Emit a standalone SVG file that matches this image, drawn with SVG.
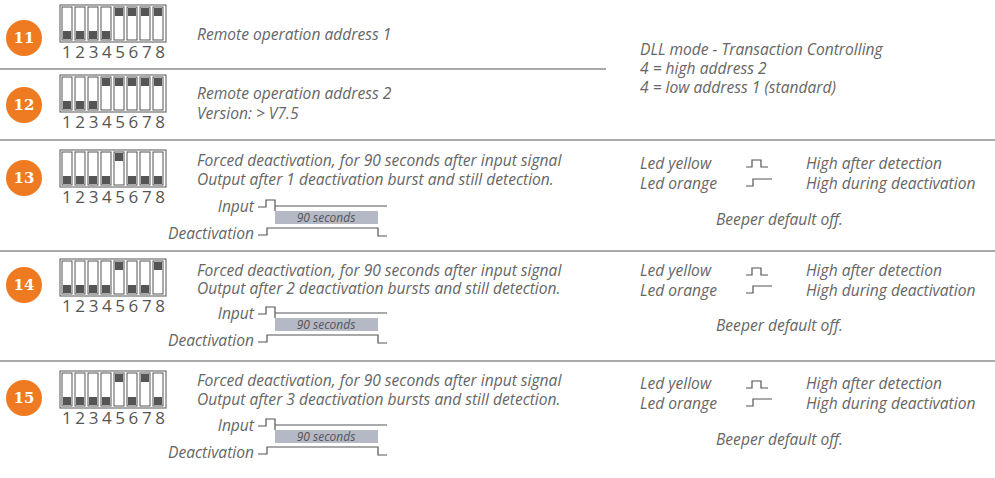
<svg xmlns="http://www.w3.org/2000/svg" width="995" height="478" viewBox="0 0 995 478">
<defs>
<style>
text{font-family:"Open Sans","Liberation Sans",sans-serif;font-style:italic;fill:#666;font-size:15.6px}
.num{font-style:normal;font-size:17px;fill:#555}
.badge{fill:#ee7a22}
.bt{font-family:"DejaVu Serif","Liberation Serif",serif;font-style:normal;font-weight:bold;fill:#fff;font-size:15px;text-anchor:middle}
.sep{stroke:#555;stroke-width:1.2}
.sw{fill:#fff;stroke:#555;stroke-width:1}
.knob{fill:#555}
.wave{fill:none;stroke:#555;stroke-width:1.2}
.gray{fill:#b5b9c6}
.sec{font-size:12px;fill:#555}
</style>
<rect id="dip" x="0" y="0" width="106" height="37" class="sw"/>
</defs>
<g id="connectors">
<line x1="0" y1="69" x2="606" y2="69" class="sep"/>
<line x1="0" y1="140" x2="995" y2="140" class="sep"/>
<line x1="0" y1="251" x2="995" y2="251" class="sep"/>
<line x1="0" y1="361" x2="995" y2="361" class="sep"/>
</g>
<g id="row11">
<circle cx="24" cy="38" r="18" class="badge"/><text x="24" y="43" class="bt">11</text>
<g transform="translate(60,5)">
<use href="#dip"/>
<rect x="2" y="2" width="10" height="33" class="sw"/><rect x="3" y="26" width="8" height="8" class="knob"/>
<rect x="15" y="2" width="10" height="33" class="sw"/><rect x="16" y="26" width="8" height="8" class="knob"/>
<rect x="28" y="2" width="10" height="33" class="sw"/><rect x="29" y="26" width="8" height="8" class="knob"/>
<rect x="41" y="2" width="10" height="33" class="sw"/><rect x="42" y="26" width="8" height="8" class="knob"/>
<rect x="54" y="2" width="10" height="33" class="sw"/><rect x="55" y="3" width="8" height="8" class="knob"/>
<rect x="67" y="2" width="10" height="33" class="sw"/><rect x="68" y="3" width="8" height="8" class="knob"/>
<rect x="80" y="2" width="10" height="33" class="sw"/><rect x="81" y="3" width="8" height="8" class="knob"/>
<rect x="93" y="2" width="10" height="33" class="sw"/><rect x="94" y="3" width="8" height="8" class="knob"/>
<text x="2" y="53" class="num" textLength="103" lengthAdjust="spacing">12345678</text>
</g>
<text x="197" y="40">Remote operation address 1</text>
</g>
<g id="row12">
<circle cx="24" cy="105" r="18" class="badge"/><text x="24" y="110" class="bt">12</text>
<g transform="translate(60,75)">
<use href="#dip"/>
<rect x="2" y="2" width="10" height="33" class="sw"/><rect x="3" y="26" width="8" height="8" class="knob"/>
<rect x="15" y="2" width="10" height="33" class="sw"/><rect x="16" y="26" width="8" height="8" class="knob"/>
<rect x="28" y="2" width="10" height="33" class="sw"/><rect x="29" y="26" width="8" height="8" class="knob"/>
<rect x="41" y="2" width="10" height="33" class="sw"/><rect x="42" y="3" width="8" height="8" class="knob"/>
<rect x="54" y="2" width="10" height="33" class="sw"/><rect x="55" y="3" width="8" height="8" class="knob"/>
<rect x="67" y="2" width="10" height="33" class="sw"/><rect x="68" y="3" width="8" height="8" class="knob"/>
<rect x="80" y="2" width="10" height="33" class="sw"/><rect x="81" y="3" width="8" height="8" class="knob"/>
<rect x="93" y="2" width="10" height="33" class="sw"/><rect x="94" y="3" width="8" height="8" class="knob"/>
<text x="2" y="53" class="num" textLength="103" lengthAdjust="spacing">12345678</text>
</g>
<text x="197" y="99">Remote operation address 2</text>
<text x="197" y="119">Version: &gt; V7.5</text>
</g>
<g id="dllnote">
<text x="640" y="55">DLL mode - Transaction Controlling</text>
<text x="640" y="74">4 = high address 2</text>
<text x="640" y="93">4 = low address 1 (standard)</text>
</g>
<g id="row13">
<circle cx="24" cy="178" r="18" class="badge"/><text x="24" y="183" class="bt">13</text>
<g transform="translate(60,150)">
<use href="#dip"/>
<rect x="2" y="2" width="10" height="33" class="sw"/><rect x="3" y="26" width="8" height="8" class="knob"/>
<rect x="15" y="2" width="10" height="33" class="sw"/><rect x="16" y="26" width="8" height="8" class="knob"/>
<rect x="28" y="2" width="10" height="33" class="sw"/><rect x="29" y="26" width="8" height="8" class="knob"/>
<rect x="41" y="2" width="10" height="33" class="sw"/><rect x="42" y="26" width="8" height="8" class="knob"/>
<rect x="54" y="2" width="10" height="33" class="sw"/><rect x="55" y="3" width="8" height="8" class="knob"/>
<rect x="67" y="2" width="10" height="33" class="sw"/><rect x="68" y="26" width="8" height="8" class="knob"/>
<rect x="80" y="2" width="10" height="33" class="sw"/><rect x="81" y="26" width="8" height="8" class="knob"/>
<rect x="93" y="2" width="10" height="33" class="sw"/><rect x="94" y="26" width="8" height="8" class="knob"/>
<text x="2" y="53" class="num" textLength="103" lengthAdjust="spacing">12345678</text>
</g>
<text x="197" y="166">Forced deactivation, for 90 seconds after input signal</text>
<text x="197" y="185">Output after 1 deactivation burst and still detection.</text>
<text x="254" y="212" text-anchor="end">Input</text>
<text x="254" y="239" text-anchor="end">Deactivation</text>
<rect x="275" y="211" width="103" height="13" class="gray"/>
<text x="326" y="222" text-anchor="middle" class="sec">90 seconds</text>
<path d="M258,207 H266 V200 H275 V211 M275,206 H387" class="wave"/>
<path d="M258,235 H267 V228 H378 V236 H387" class="wave"/>
<text x="640" y="169">Led yellow</text>
<text x="640" y="189">Led orange</text>
<path d="M746,167 H752 V160 H761 V167 H768" class="wave"/>
<path d="M746,186 H753 V179 H772" class="wave"/>
<text x="806" y="169">High after detection</text>
<text x="806" y="189">High during deactivation</text>
<text x="716" y="225">Beeper default off.</text>
</g>
<g id="row14">
<circle cx="24" cy="285" r="18" class="badge"/><text x="24" y="290" class="bt">14</text>
<g transform="translate(60,259)">
<use href="#dip"/>
<rect x="2" y="2" width="10" height="33" class="sw"/><rect x="3" y="26" width="8" height="8" class="knob"/>
<rect x="15" y="2" width="10" height="33" class="sw"/><rect x="16" y="26" width="8" height="8" class="knob"/>
<rect x="28" y="2" width="10" height="33" class="sw"/><rect x="29" y="26" width="8" height="8" class="knob"/>
<rect x="41" y="2" width="10" height="33" class="sw"/><rect x="42" y="26" width="8" height="8" class="knob"/>
<rect x="54" y="2" width="10" height="33" class="sw"/><rect x="55" y="3" width="8" height="8" class="knob"/>
<rect x="67" y="2" width="10" height="33" class="sw"/><rect x="68" y="26" width="8" height="8" class="knob"/>
<rect x="80" y="2" width="10" height="33" class="sw"/><rect x="81" y="26" width="8" height="8" class="knob"/>
<rect x="93" y="2" width="10" height="33" class="sw"/><rect x="94" y="3" width="8" height="8" class="knob"/>
<text x="2" y="53" class="num" textLength="103" lengthAdjust="spacing">12345678</text>
</g>
<text x="197" y="276">Forced deactivation, for 90 seconds after input signal</text>
<text x="197" y="294">Output after 2 deactivation bursts and still detection.</text>
<text x="254" y="319" text-anchor="end">Input</text>
<text x="254" y="346" text-anchor="end">Deactivation</text>
<rect x="275" y="318" width="103" height="13" class="gray"/>
<text x="326" y="329" text-anchor="middle" class="sec">90 seconds</text>
<path d="M258,314 H266 V307 H275 V318 M275,313 H387" class="wave"/>
<path d="M258,342 H267 V335 H378 V343 H387" class="wave"/>
<text x="640" y="276">Led yellow</text>
<text x="640" y="296">Led orange</text>
<path d="M746,275 H752 V268 H761 V275 H768" class="wave"/>
<path d="M746,293 H753 V286 H772" class="wave"/>
<text x="806" y="276">High after detection</text>
<text x="806" y="296">High during deactivation</text>
<text x="716" y="331">Beeper default off.</text>
</g>
<g id="row15">
<circle cx="24" cy="398" r="18" class="badge"/><text x="24" y="403" class="bt">15</text>
<g transform="translate(60,371)">
<use href="#dip"/>
<rect x="2" y="2" width="10" height="33" class="sw"/><rect x="3" y="26" width="8" height="8" class="knob"/>
<rect x="15" y="2" width="10" height="33" class="sw"/><rect x="16" y="26" width="8" height="8" class="knob"/>
<rect x="28" y="2" width="10" height="33" class="sw"/><rect x="29" y="26" width="8" height="8" class="knob"/>
<rect x="41" y="2" width="10" height="33" class="sw"/><rect x="42" y="26" width="8" height="8" class="knob"/>
<rect x="54" y="2" width="10" height="33" class="sw"/><rect x="55" y="3" width="8" height="8" class="knob"/>
<rect x="67" y="2" width="10" height="33" class="sw"/><rect x="68" y="26" width="8" height="8" class="knob"/>
<rect x="80" y="2" width="10" height="33" class="sw"/><rect x="81" y="3" width="8" height="8" class="knob"/>
<rect x="93" y="2" width="10" height="33" class="sw"/><rect x="94" y="26" width="8" height="8" class="knob"/>
<text x="2" y="53" class="num" textLength="103" lengthAdjust="spacing">12345678</text>
</g>
<text x="197" y="386">Forced deactivation, for 90 seconds after input signal</text>
<text x="197" y="405">Output after 3 deactivation bursts and still detection.</text>
<text x="254" y="431" text-anchor="end">Input</text>
<text x="254" y="458" text-anchor="end">Deactivation</text>
<rect x="275" y="430" width="103" height="13" class="gray"/>
<text x="326" y="441" text-anchor="middle" class="sec">90 seconds</text>
<path d="M258,426 H266 V419 H275 V430 M275,425 H387" class="wave"/>
<path d="M258,454 H267 V447 H378 V455 H387" class="wave"/>
<text x="640" y="389">Led yellow</text>
<text x="640" y="409">Led orange</text>
<path d="M746,388 H752 V381 H761 V388 H768" class="wave"/>
<path d="M746,406 H753 V399 H772" class="wave"/>
<text x="806" y="389">High after detection</text>
<text x="806" y="409">High during deactivation</text>
<text x="716" y="445">Beeper default off.</text>
</g>
</svg>
